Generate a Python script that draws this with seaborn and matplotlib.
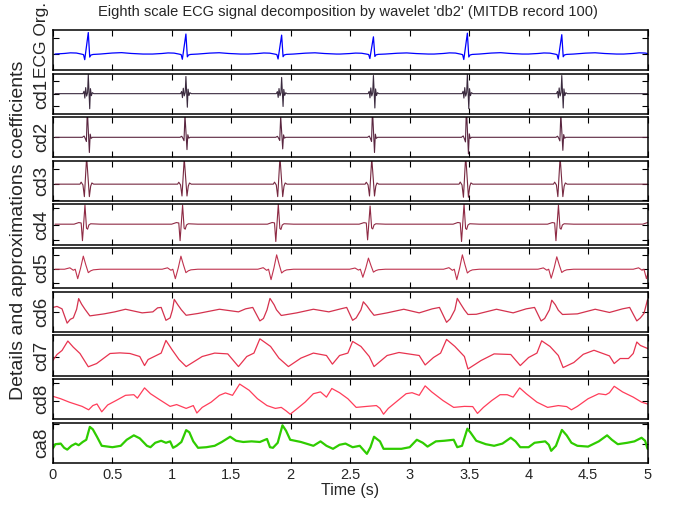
import numpy as np
import pandas as pd
import matplotlib
matplotlib.use('Agg')
import matplotlib.pyplot as plt
import seaborn as sns

# ==================== data ====================
# values are in panel units: -1 = bottom edge, +1 = top edge of each panel
names = ['ECG Org.', 'cd1', 'cd2', 'cd3', 'cd4', 'cd5', 'cd6', 'cd7', 'cd8', 'ca8']
colors = ['#0000ff', '#3a2a3e', '#5a2640', '#762840', '#8e2a44',
          '#bf324e', '#d4324e', '#e8334f', '#ff3d5a', '#2fcc00']
widths = [0.9, 0.8, 0.8, 0.8, 0.8, 0.8, 0.9, 0.9, 0.9, 1.6]
yticks = [[0.61, -0.22], [0.62, 0.0, -0.6], [0.0], [0.6, -0.17, -0.94],
          [0.82, 0.0, -0.79], [0.65, -0.02, -0.73], [0.0], [-0.05],
          [0.8, -0.1], [0.92, -0.08]]

# R peak times (s) of the beats; the last one lies just past the window
beat_t = [0.297, 1.118, 1.923, 2.695, 3.485, 4.279, 5.08]

# beat shapes: offset from the R peak (s) and deviation from the baseline
ecg_off = [-0.28, -0.2, -0.15, -0.1, -0.06, -0.04, -0.03, 0.0, 0.012, 0.022, 0.04, 0.1, 0.2, 0.28, 0.36, 0.46]
ecg_dev = [0.0, 0.03, 0.06, 0.05, 0.0, -0.03, -0.28, 1.07, -0.15, -0.05, -0.02, 0.0, 0.05, 0.07, 0.03, 0.0]
ecg_base = -0.2
ecg_gain = [1.0, 0.93, 0.88, 0.8, 0.97, 0.9, 1.0]

cd1_off = [-0.28, -0.045, -0.036, -0.029, -0.022, -0.014, -0.006, 0.0,
           0.006, 0.012, 0.018, 0.026, 0.034, 0.046, 0.46]
cd1_dev = [0.0, 0.0, 0.12, -0.22, 0.3, -0.12, 0.05, 0.95,
           0.1, -0.75, 0.25, -0.1, 0.05, 0.0, 0.0]
cd1_gain = [1.0, 0.9, 0.85, 0.95, 1.0, 0.95, 1.0]

cd2_off = [-0.28, -0.05, -0.035, -0.025, -0.016, -0.008, 0.009, 0.016, 0.024, 0.035, 0.46]
cd2_dev = [0.0, 0.0, 0.06, -0.06, -0.2, 1.3, -0.72, 0.15, -0.05, 0.0, 0.0]
cd2_gain = [1.05, 0.85, 0.8, 1.05, 1.15, 0.9, 1.0]

cd3_off = [-0.28, -0.07, -0.06, -0.045, -0.033, -0.014, 0.009, 0.02, 0.03, 0.045, 0.46]
cd3_dev = [0.0, 0.0, 0.1, -0.04, -0.62, 1.35, -0.62, -0.1, 0.06, 0.0, 0.0]
cd3_base = -0.16
cd3_gain = [1.0, 0.95, 1.0, 0.95, 1.05, 1.0, 1.0]

cd4_off = [-0.28, -0.12, -0.08, -0.06, -0.049, -0.028, -0.015, -0.006, 0.005, 0.02, 0.1, 0.46]
cd4_dev = [0.0, 0.0, 0.08, 0.06, -0.82, 0.95, -0.2, -0.25, -0.04, 0.02, 0.0, 0.0]
cd4_base = 0.02
cd4_gain = [1.0, 1.0, 1.05, 0.95, 1.05, 1.0, 1.0]

cd5_off = [-0.28, -0.2, -0.155, -0.126, -0.11, -0.089, -0.065, -0.042, -0.02, 0.0, 0.02, 0.042, 0.1, 0.46]
cd5_dev = [0.0, 0.0, 0.07, -0.05, 0.0, -0.47, 0.05, 0.65, 0.2, -0.17, -0.08, -0.03, 0.0, 0.0]
cd5_base = -0.05
cd5_gain = [1.0, 1.0, 1.1, 0.85, 1.1, 0.95, 1.0]

cd6_t = [0.0, 0.034, 0.076, 0.119, 0.146, 0.171, 0.199, 0.216, 0.241, 0.269, 0.31, 0.43, 0.52, 0.61,
         0.75, 0.84, 0.88, 0.91, 0.95, 0.985, 1.005, 1.02, 1.05, 1.08, 1.12, 1.22, 1.4, 1.56, 1.62,
         1.68, 1.74, 1.77, 1.8, 1.825, 1.86, 1.88, 1.92, 2.05, 2.19, 2.32, 2.42, 2.47, 2.52, 2.55,
         2.59, 2.61, 2.64, 2.67, 2.7, 2.81, 2.95, 3.08, 3.19, 3.25, 3.31, 3.34, 3.38, 3.4, 3.43,
         3.46, 3.49, 3.56, 3.73, 3.87, 3.98, 4.05, 4.105, 4.135, 4.175, 4.195, 4.225, 4.25, 4.285,
         4.41, 4.56, 4.68, 4.79, 4.85, 4.91, 4.94, 4.97, 5.0]
cd6_v = [0.22, 0.27, 0.15, -0.56, -0.37, -0.3, 0.13, 0.66, 0.38, 0.13, -0.2, -0.1, 0.0, 0.13,
         -0.05, 0.0, 0.2, 0.22, -0.42, -0.3, 0.1, 0.62, 0.35, 0.1, -0.17, -0.08, 0.13, 0.0, 0.15,
         0.22, -0.45, -0.33, 0.1, 0.67, 0.35, 0.1, -0.18, -0.05, 0.13, 0.0, 0.15, 0.22, -0.42, -0.3,
         0.1, 0.5, 0.3, 0.05, -0.17, -0.05, 0.13, -0.05, 0.15, 0.22, -0.52, -0.35, 0.1, 0.67, 0.38,
         0.1, -0.13, -0.12, 0.13, -0.05, 0.15, 0.22, -0.45, -0.33, 0.1, 0.58, 0.35, 0.08, -0.13,
         -0.1, 0.13, -0.03, 0.15, 0.22, -0.45, -0.3, -0.08, 0.6]

cd7_t = [0.0, 0.034, 0.076, 0.125, 0.17, 0.227, 0.297, 0.367, 0.48, 0.563, 0.647, 0.73, 0.77, 0.8,
         0.91, 0.95, 1.0, 1.06, 1.12, 1.255, 1.36, 1.47, 1.56, 1.63, 1.69, 1.74, 1.83, 1.9, 1.98,
         2.085, 2.19, 2.3, 2.35, 2.41, 2.48, 2.52, 2.59, 2.66, 2.7, 2.81, 2.91, 3.08, 3.13, 3.2,
         3.26, 3.31, 3.38, 3.46, 3.49, 3.6, 3.71, 3.85, 3.93, 4.0, 4.07, 4.11, 4.18, 4.25, 4.29,
         4.38, 4.46, 4.55, 4.68, 4.72, 4.77, 4.84, 4.88, 4.91, 4.94, 5.0]
cd7_v = [-0.24, 0.05, 0.25, 0.72, 0.42, 0.1, -0.56, -0.4, 0.1, 0.13, 0.1, -0.05, -0.5, -0.2,
         0.12, 0.75, 0.3, -0.2, -0.55, -0.05, 0.12, 0.08, -0.55, -0.05, 0.12, 0.83, 0.45, -0.13, -0.55,
         -0.13, 0.12, 0.0, -0.43, 0.0, 0.12, 0.7, 0.45, -0.05, -0.55, 0.0, 0.15, 0.0, -0.47, -0.1,
         0.12, 0.8, 0.45, -0.05, -0.67, -0.25, 0.08, 0.05, -0.5, -0.1, 0.12, 0.73, 0.45, 0.0, -0.6,
         -0.35, 0.06, 0.26, -0.02, -0.4, -0.15, -0.15, 0.1, 0.67, 0.5, 0.35]

cd8_t = [0.0, 0.065, 0.137, 0.245, 0.3, 0.335, 0.37, 0.41, 0.46, 0.53, 0.61, 0.68, 0.71, 0.77, 0.82,
         0.895, 0.985, 1.04, 1.12, 1.18, 1.21, 1.255, 1.33, 1.4, 1.45, 1.51, 1.57, 1.65, 1.72, 1.8,
         1.87, 1.92, 1.96, 1.995, 2.05, 2.12, 2.19, 2.25, 2.3, 2.345, 2.41, 2.48, 2.55, 2.64, 2.72,
         2.75, 2.78, 2.82, 2.9, 2.97, 3.02, 3.08, 3.13, 3.185, 3.28, 3.37, 3.46, 3.53, 3.57, 3.62,
         3.69, 3.76, 3.82, 3.87, 3.925, 3.98, 4.07, 4.16, 4.25, 4.32, 4.36, 4.41, 4.5, 4.59, 4.65,
         4.68, 4.72, 4.79, 4.88, 4.95, 5.0]
cd8_v = [0.14, 0.02, -0.15, -0.36, -0.53, -0.32, -0.24, -0.63, -0.29, -0.07, 0.19, 0.22, 0.05, 0.56, 0.27,
         -0.02, -0.36, -0.27, -0.46, -0.32, -0.69, -0.41, -0.15, 0.19, 0.31, 0.19, 0.75, 0.44, 0.02, -0.32,
         -0.46, -0.41, -0.58, -0.75, -0.49, -0.15, 0.27, 0.36, 0.1, 0.53, 0.32, 0.02, -0.41, -0.36, -0.32,
         -0.46, -0.75, -0.46, -0.07, 0.27, 0.32, 0.19, 0.66, 0.36, -0.07, -0.41, -0.36, -0.37, -0.71, -0.41,
         -0.07, 0.22, 0.22, 0.1, 0.56, 0.27, -0.15, -0.41, -0.32, -0.37, -0.53, -0.36, 0.02, 0.27, 0.22,
         0.32, 0.64, 0.36, 0.1, -0.15, -0.24]

ca8_t = [0.0, 0.02, 0.065, 0.094, 0.12, 0.155, 0.19, 0.216, 0.25, 0.28, 0.31, 0.335, 0.37, 0.41, 0.5,
         0.57, 0.62, 0.68, 0.73, 0.79, 0.82, 0.86, 0.91, 0.95, 0.985, 1.01, 1.04, 1.08, 1.12, 1.147,
         1.18, 1.22, 1.29, 1.36, 1.42, 1.49, 1.54, 1.6, 1.67, 1.74, 1.8, 1.825, 1.85, 1.89, 1.93,
         1.96, 1.995, 2.085, 2.19, 2.25, 2.3, 2.355, 2.41, 2.46, 2.52, 2.58, 2.64, 2.67, 2.7, 2.75,
         2.78, 2.84, 2.93, 3.0, 3.06, 3.11, 3.15, 3.22, 3.29, 3.37, 3.4, 3.44, 3.485, 3.51, 3.56,
         3.64, 3.71, 3.78, 3.85, 3.89, 3.93, 4.0, 4.05, 4.14, 4.17, 4.19, 4.23, 4.28, 4.32, 4.36,
         4.41, 4.5, 4.59, 4.66, 4.7, 4.75, 4.83, 4.89, 4.95, 4.98, 5.0]
ca8_v = [-0.27, -0.07, -0.04, -0.25, -0.34, -0.15, -0.04, -0.12, 0.04, 0.15, 0.79, 0.67, 0.3, -0.15, -0.22,
         -0.15, 0.15, 0.37, 0.22, -0.15, -0.22, 0.0, 0.1, 0.0, 0.07, -0.25, -0.15, 0.04, 0.63, 0.52,
         0.07, -0.25, -0.22, -0.15, 0.04, 0.3, 0.1, 0.04, 0.07, 0.04, 0.19, -0.22, -0.25, 0.0, 0.87,
         0.6, 0.15, 0.04, -0.15, 0.07, -0.15, -0.3, -0.1, -0.04, -0.22, -0.15, -0.55, -0.22, 0.3, 0.07,
         -0.3, -0.3, -0.3, -0.22, 0.15, 0.0, -0.19, 0.07, 0.1, 0.15, -0.22, -0.15, 0.7, 0.52, 0.1,
         -0.07, -0.15, -0.04, 0.25, 0.07, -0.22, -0.22, 0.0, 0.07, -0.1, -0.4, -0.15, 0.64, 0.37, 0.0,
         -0.15, -0.19, 0.07, 0.37, 0.15, -0.07, 0.0, 0.07, 0.25, 0.1, -0.3]

xticks = [0, 0.5, 1, 1.5, 2, 2.5, 3, 3.5, 4, 4.5, 5]
xticklabels = ['0', '0.5', '1', '1.5', '2', '2.5', '3', '3.5', '4', '4.5', '5']


def beat_series(off, dev, base, gain):
    # place the beat shape at every R peak
    t, v = [], []
    for tb, g in zip(beat_t, gain):
        for o, d in zip(off, dev):
            t.append(tb + o)
            v.append(base + g * d)
    return t, v


series = [
    beat_series(ecg_off, ecg_dev, ecg_base, ecg_gain),
    beat_series(cd1_off, cd1_dev, 0.0, cd1_gain),
    beat_series(cd2_off, cd2_dev, 0.0, cd2_gain),
    beat_series(cd3_off, cd3_dev, cd3_base, cd3_gain),
    beat_series(cd4_off, cd4_dev, cd4_base, cd4_gain),
    beat_series(cd5_off, cd5_dev, cd5_base, cd5_gain),
    (cd6_t, cd6_v),
    (cd7_t, cd7_v),
    (cd8_t, cd8_v),
    (ca8_t, ca8_v),
]

# ==================== figure ====================
sns.set_style('white')
plt.rcParams['font.family'] = ['Liberation Sans', 'DejaVu Sans']

fig, axes = plt.subplots(10, 1, figsize=(6.74, 5.07), dpi=100, sharex=True)
fig.subplots_adjust(left=0.0786, right=0.9607, top=0.941, bottom=0.087, hspace=0.085)

for i, ax in enumerate(axes):
    t, v = series[i]
    df = pd.DataFrame({'t': t, 'v': v})
    sns.lineplot(data=df, x='t', y='v', ax=ax, color=colors[i], linewidth=widths[i],
                 estimator=None, sort=False, legend=False)
    ax.set_xlim(0, 5)
    ax.set_ylim(-1, 1)
    ax.set_yticks(yticks[i])
    ax.set_yticklabels([])
    ax.set_xticks(xticks)
    ax.set_xlabel('')
    ax.set_ylabel('')
    ax.tick_params(direction='in', top=True, bottom=True, left=True, right=True,
                   length=4, width=0.8, color='k')
    for s in ax.spines.values():
        s.set_color('k')
        s.set_linewidth(1.1)
    pos = ax.get_position()
    yc = (pos.y0 + pos.y1) / 2
    fs = 13.5
    if i == 0:
        yc = 1 - 40 / 507
        fs = 12.5
    fig.text(0.062, yc, names[i], rotation=90, ha='center', va='center', fontsize=fs)

axes[-1].set_xticklabels(xticklabels, fontsize=10.5)
axes[-1].set_xlabel('Time (s)', fontsize=11.5, labelpad=1)

fig.text(0.516, 0.976, "Eighth scale ECG signal decomposition by wavelet 'db2' (MITDB record 100)",
         ha='center', va='center', fontsize=10.5)
fig.text(0.027, 0.545, 'Details and approximations coefficients', rotation=90,
         ha='center', va='center', fontsize=14)

fig.savefig('out.png', dpi=100)
